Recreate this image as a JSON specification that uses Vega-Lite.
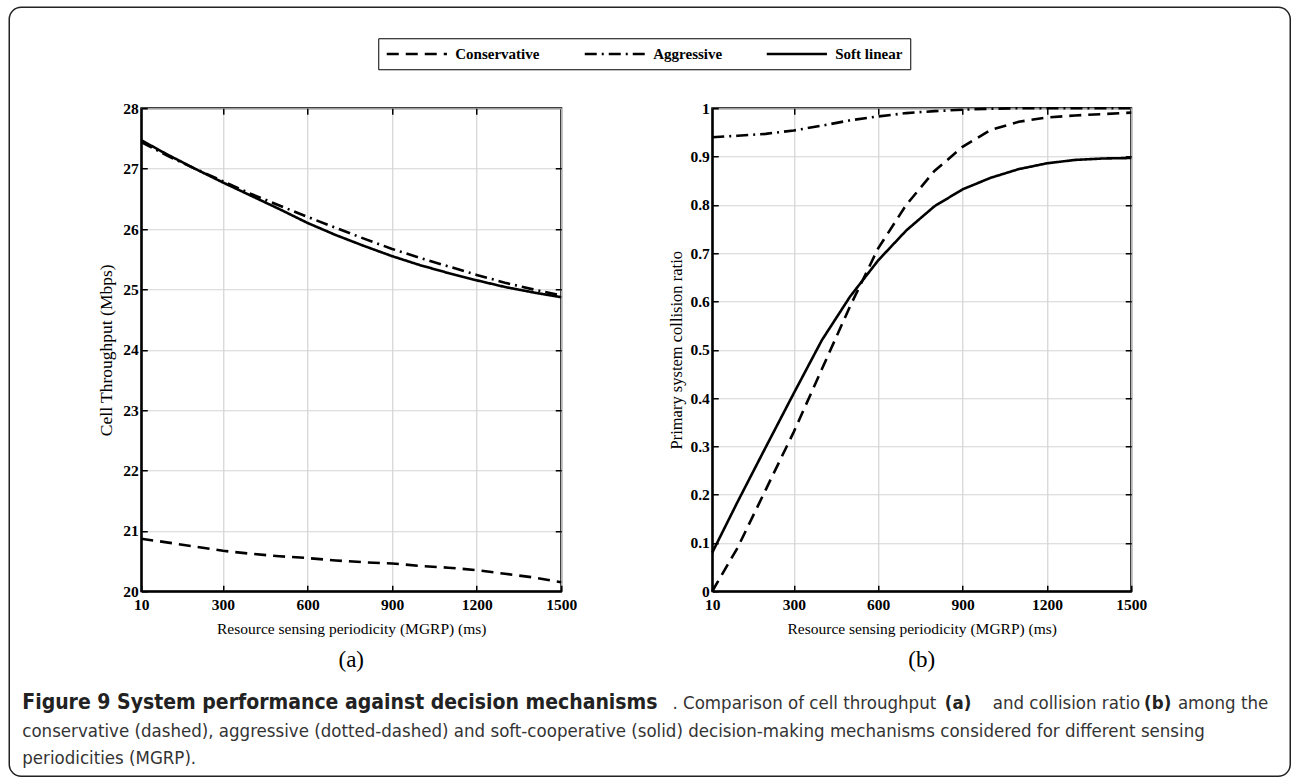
{
  "$schema": "https://vega.github.io/schema/vega-lite/v6.json",
  "padding": {"left": 8.25, "top": 6.25, "right": 0, "bottom": 0},
  "background": "white",
  "config": {
    "font": "Liberation Serif",
    "view": {"stroke": "black", "strokeWidth": 2},
    "axis": {
      "gridColor": "#d4d4d4", "gridWidth": 1.2,
      "domainColor": "black", "domainWidth": 2,
      "tickColor": "black", "tickWidth": 1.5, "tickSize": -6,
      "labelFont": "Liberation Serif", "labelFontSize": 15.5, "labelFontWeight": "bold", "labelColor": "black",
      "titleFont": "Liberation Serif", "titleFontSize": 15.5, "titleFontWeight": "normal", "titleColor": "black",
      "labelFlush": false, "labelOverlap": false
    },
    "legend": {
      "labelFont": "Liberation Serif", "labelFontSize": 15, "labelFontWeight": "bold", "labelColor": "black"
    }
  },
  "datasets": {
    "throughput": [
      {"mgrp": 10, "mechanism": "Conservative", "value": 20.87},
      {"mgrp": 100, "mechanism": "Conservative", "value": 20.81},
      {"mgrp": 200, "mechanism": "Conservative", "value": 20.74},
      {"mgrp": 300, "mechanism": "Conservative", "value": 20.67},
      {"mgrp": 400, "mechanism": "Conservative", "value": 20.62},
      {"mgrp": 500, "mechanism": "Conservative", "value": 20.58},
      {"mgrp": 600, "mechanism": "Conservative", "value": 20.55},
      {"mgrp": 700, "mechanism": "Conservative", "value": 20.51},
      {"mgrp": 800, "mechanism": "Conservative", "value": 20.48},
      {"mgrp": 900, "mechanism": "Conservative", "value": 20.46},
      {"mgrp": 1000, "mechanism": "Conservative", "value": 20.42},
      {"mgrp": 1100, "mechanism": "Conservative", "value": 20.39},
      {"mgrp": 1200, "mechanism": "Conservative", "value": 20.35},
      {"mgrp": 1300, "mechanism": "Conservative", "value": 20.29},
      {"mgrp": 1400, "mechanism": "Conservative", "value": 20.23},
      {"mgrp": 1500, "mechanism": "Conservative", "value": 20.15},
      {"mgrp": 10, "mechanism": "Aggressive", "value": 27.44},
      {"mgrp": 100, "mechanism": "Aggressive", "value": 27.22},
      {"mgrp": 200, "mechanism": "Aggressive", "value": 27.0},
      {"mgrp": 300, "mechanism": "Aggressive", "value": 26.79},
      {"mgrp": 400, "mechanism": "Aggressive", "value": 26.58},
      {"mgrp": 500, "mechanism": "Aggressive", "value": 26.39},
      {"mgrp": 600, "mechanism": "Aggressive", "value": 26.2},
      {"mgrp": 700, "mechanism": "Aggressive", "value": 26.02},
      {"mgrp": 800, "mechanism": "Aggressive", "value": 25.84},
      {"mgrp": 900, "mechanism": "Aggressive", "value": 25.67},
      {"mgrp": 1000, "mechanism": "Aggressive", "value": 25.52},
      {"mgrp": 1100, "mechanism": "Aggressive", "value": 25.38},
      {"mgrp": 1200, "mechanism": "Aggressive", "value": 25.24},
      {"mgrp": 1300, "mechanism": "Aggressive", "value": 25.11},
      {"mgrp": 1400, "mechanism": "Aggressive", "value": 25.0},
      {"mgrp": 1500, "mechanism": "Aggressive", "value": 24.9},
      {"mgrp": 10, "mechanism": "Soft linear", "value": 27.47},
      {"mgrp": 100, "mechanism": "Soft linear", "value": 27.24},
      {"mgrp": 200, "mechanism": "Soft linear", "value": 27.0},
      {"mgrp": 300, "mechanism": "Soft linear", "value": 26.77},
      {"mgrp": 400, "mechanism": "Soft linear", "value": 26.55},
      {"mgrp": 500, "mechanism": "Soft linear", "value": 26.33},
      {"mgrp": 600, "mechanism": "Soft linear", "value": 26.1},
      {"mgrp": 700, "mechanism": "Soft linear", "value": 25.9},
      {"mgrp": 800, "mechanism": "Soft linear", "value": 25.72},
      {"mgrp": 900, "mechanism": "Soft linear", "value": 25.55},
      {"mgrp": 1000, "mechanism": "Soft linear", "value": 25.4},
      {"mgrp": 1100, "mechanism": "Soft linear", "value": 25.27},
      {"mgrp": 1200, "mechanism": "Soft linear", "value": 25.15},
      {"mgrp": 1300, "mechanism": "Soft linear", "value": 25.04},
      {"mgrp": 1400, "mechanism": "Soft linear", "value": 24.95},
      {"mgrp": 1500, "mechanism": "Soft linear", "value": 24.87}
    ],
    "collision": [
      {"mgrp": 10, "mechanism": "Conservative", "value": 0.0},
      {"mgrp": 100, "mechanism": "Conservative", "value": 0.09},
      {"mgrp": 200, "mechanism": "Conservative", "value": 0.21},
      {"mgrp": 300, "mechanism": "Conservative", "value": 0.33},
      {"mgrp": 400, "mechanism": "Conservative", "value": 0.46},
      {"mgrp": 500, "mechanism": "Conservative", "value": 0.59},
      {"mgrp": 600, "mechanism": "Conservative", "value": 0.71},
      {"mgrp": 700, "mechanism": "Conservative", "value": 0.8},
      {"mgrp": 800, "mechanism": "Conservative", "value": 0.87},
      {"mgrp": 900, "mechanism": "Conservative", "value": 0.92},
      {"mgrp": 1000, "mechanism": "Conservative", "value": 0.955},
      {"mgrp": 1100, "mechanism": "Conservative", "value": 0.972},
      {"mgrp": 1200, "mechanism": "Conservative", "value": 0.981},
      {"mgrp": 1300, "mechanism": "Conservative", "value": 0.985},
      {"mgrp": 1400, "mechanism": "Conservative", "value": 0.988},
      {"mgrp": 1500, "mechanism": "Conservative", "value": 0.991},
      {"mgrp": 10, "mechanism": "Aggressive", "value": 0.94},
      {"mgrp": 100, "mechanism": "Aggressive", "value": 0.943},
      {"mgrp": 200, "mechanism": "Aggressive", "value": 0.947},
      {"mgrp": 300, "mechanism": "Aggressive", "value": 0.954},
      {"mgrp": 400, "mechanism": "Aggressive", "value": 0.964},
      {"mgrp": 500, "mechanism": "Aggressive", "value": 0.975},
      {"mgrp": 600, "mechanism": "Aggressive", "value": 0.983},
      {"mgrp": 700, "mechanism": "Aggressive", "value": 0.99},
      {"mgrp": 800, "mechanism": "Aggressive", "value": 0.994},
      {"mgrp": 900, "mechanism": "Aggressive", "value": 0.997},
      {"mgrp": 1000, "mechanism": "Aggressive", "value": 0.999},
      {"mgrp": 1100, "mechanism": "Aggressive", "value": 1.0},
      {"mgrp": 1200, "mechanism": "Aggressive", "value": 1.0},
      {"mgrp": 1300, "mechanism": "Aggressive", "value": 1.0},
      {"mgrp": 1400, "mechanism": "Aggressive", "value": 1.0},
      {"mgrp": 1500, "mechanism": "Aggressive", "value": 1.0},
      {"mgrp": 10, "mechanism": "Soft linear", "value": 0.08},
      {"mgrp": 100, "mechanism": "Soft linear", "value": 0.185},
      {"mgrp": 200, "mechanism": "Soft linear", "value": 0.298},
      {"mgrp": 300, "mechanism": "Soft linear", "value": 0.41},
      {"mgrp": 400, "mechanism": "Soft linear", "value": 0.52},
      {"mgrp": 500, "mechanism": "Soft linear", "value": 0.61},
      {"mgrp": 600, "mechanism": "Soft linear", "value": 0.685},
      {"mgrp": 700, "mechanism": "Soft linear", "value": 0.747},
      {"mgrp": 800, "mechanism": "Soft linear", "value": 0.797},
      {"mgrp": 900, "mechanism": "Soft linear", "value": 0.832},
      {"mgrp": 1000, "mechanism": "Soft linear", "value": 0.856},
      {"mgrp": 1100, "mechanism": "Soft linear", "value": 0.874},
      {"mgrp": 1200, "mechanism": "Soft linear", "value": 0.886},
      {"mgrp": 1300, "mechanism": "Soft linear", "value": 0.893},
      {"mgrp": 1400, "mechanism": "Soft linear", "value": 0.896},
      {"mgrp": 1500, "mechanism": "Soft linear", "value": 0.897}
    ]
  },
  "bounds": "flush",
  "spacing": 572,
  "vconcat": [
    {
      "bounds": "flush",
      "spacing": 151,
      "hconcat": [
        {
          "width": 420, "height": 483,
          "data": {"name": "throughput"},
          "title": {"text": "(a)", "orient": "bottom", "fontSize": 23, "font": "Liberation Serif", "fontWeight": "normal", "color": "black", "offset": 12},
          "resolve": {"axis": {"x": "independent", "y": "independent"}},
          "layer": [
            {
              "mark": {"type": "line", "color": "black", "strokeWidth": 2.6},
              "encoding": {
                "x": {"field": "mgrp", "type": "quantitative", "scale": {"domain": [10, 1500], "nice": false},
                  "axis": {"values": [10, 300, 600, 900, 1200, 1500], "format": "d", "title": "Resource sensing periodicity (MGRP) (ms)", "labelPadding": 12, "titlePadding": 9}},
                "y": {"field": "value", "type": "quantitative", "scale": {"domain": [20, 28], "nice": false, "zero": false},
                  "axis": {"values": [20, 21, 22, 23, 24, 25, 26, 27, 28], "title": "Cell Throughput (Mbps)", "titleFontSize": 17.5, "labelPadding": 9, "titlePadding": 7}},
                "strokeDash": {"field": "mechanism", "type": "nominal",
                  "scale": {"domain": ["Conservative", "Aggressive", "Soft linear"], "range": [[12, 7], [12, 5, 2, 5], [1, 0]]},
                  "legend": {"orient": "none", "legendX": 237, "legendY": -70, "direction": "horizontal", "title": null,
                    "symbolType": "M-1,0H7.6", "symbolSize": 196, "symbolStrokeWidth": 2.6, "symbolStrokeColor": "black",
                    "strokeColor": "black", "padding": 7, "columnPadding": 39, "labelOffset": 53}}
              }
            },
            {
              "mark": {"type": "point", "opacity": 0},
              "encoding": {
                "x": {"field": "mgrp", "type": "quantitative",
                  "axis": {"orient": "top", "values": [300, 600, 900, 1200], "labels": false, "grid": false, "domain": false, "title": null}},
                "y": {"field": "value", "type": "quantitative",
                  "axis": {"orient": "right", "values": [21, 22, 23, 24, 25, 26, 27], "labels": false, "grid": false, "domain": false, "title": null}}
              }
            }
          ]
        },
        {
          "width": 419, "height": 483,
          "data": {"name": "collision"},
          "title": {"text": "(b)", "orient": "bottom", "fontSize": 23, "font": "Liberation Serif", "fontWeight": "normal", "color": "black", "offset": 12},
          "resolve": {"axis": {"x": "independent", "y": "independent"}},
          "layer": [
            {
              "mark": {"type": "line", "color": "black", "strokeWidth": 2.6},
              "encoding": {
                "x": {"field": "mgrp", "type": "quantitative", "scale": {"domain": [10, 1500], "nice": false},
                  "axis": {"values": [10, 300, 600, 900, 1200, 1500], "format": "d", "title": "Resource sensing periodicity (MGRP) (ms)", "labelPadding": 12, "titlePadding": 9}},
                "y": {"field": "value", "type": "quantitative", "scale": {"domain": [0, 1], "nice": false},
                  "axis": {"values": [0, 0.1, 0.2, 0.3, 0.4, 0.5, 0.6, 0.7, 0.8, 0.9, 1], "format": ".1~f", "title": "Primary system collision ratio", "titleFontSize": 16.5, "labelPadding": 9, "titlePadding": 5}},
                "strokeDash": {"field": "mechanism", "type": "nominal"}
              }
            },
            {
              "mark": {"type": "point", "opacity": 0},
              "encoding": {
                "x": {"field": "mgrp", "type": "quantitative",
                  "axis": {"orient": "top", "values": [300, 600, 900, 1200], "labels": false, "grid": false, "domain": false, "title": null}},
                "y": {"field": "value", "type": "quantitative",
                  "axis": {"orient": "right", "values": [0.1, 0.2, 0.3, 0.4, 0.5, 0.6, 0.7, 0.8, 0.9], "labels": false, "grid": false, "domain": false, "title": null}}
              }
            }
          ]
        }
      ]
    },
    {
      "width": 1100, "height": 96,
      "view": {"stroke": null},
      "data": {"values": [{}]},
      "layer": [
        {"mark": {"type": "rect", "x": -132, "x2": 1149, "y": -673, "y2": 96, "cornerRadius": 12, "fill": "transparent", "stroke": "#222", "strokeWidth": 1.5}, "encoding": {}},
        {"mark": {"type": "rule", "x": -56, "y": -657, "y2": -30, "color": "#dadada", "strokeWidth": 1.2}, "encoding": {}},
        {"mark": {"type": "text", "text": "Figure 9 System performance against decision mechanisms", "x": -119, "y": 29, "align": "left", "baseline": "alphabetic", "font": "DejaVu Sans Condensed, Open Sans, sans-serif", "fontSize": 21, "fontWeight": "bold", "color": "#222"}, "encoding": {}},
        {"mark": {"type": "text", "text": ". Comparison of cell throughput", "x": 795, "y": 29, "align": "right", "baseline": "alphabetic", "font": "DejaVu Sans Condensed, Open Sans, sans-serif", "fontSize": 18.5, "color": "#333"}, "encoding": {}},
        {"mark": {"type": "text", "text": "(a)", "x": 830, "y": 29, "align": "right", "baseline": "alphabetic", "font": "DejaVu Sans Condensed, Open Sans, sans-serif", "fontSize": 18.5, "fontWeight": "bold", "color": "#222"}, "encoding": {}},
        {"mark": {"type": "text", "text": "and collision ratio", "x": 999, "y": 29, "align": "right", "baseline": "alphabetic", "font": "DejaVu Sans Condensed, Open Sans, sans-serif", "fontSize": 18.5, "color": "#333"}, "encoding": {}},
        {"mark": {"type": "text", "text": "(b)", "x": 1030, "y": 29, "align": "right", "baseline": "alphabetic", "font": "DejaVu Sans Condensed, Open Sans, sans-serif", "fontSize": 18.5, "fontWeight": "bold", "color": "#222"}, "encoding": {}},
        {"mark": {"type": "text", "text": "among the", "x": 1127, "y": 29, "align": "right", "baseline": "alphabetic", "font": "DejaVu Sans Condensed, Open Sans, sans-serif", "fontSize": 18.5, "color": "#333"}, "encoding": {}},
        {"mark": {"type": "text", "text": "conservative (dashed), aggressive (dotted-dashed) and soft-cooperative (solid) decision-making mechanisms considered for different sensing", "x": -119, "y": 57, "align": "left", "baseline": "alphabetic", "font": "DejaVu Sans Condensed, Open Sans, sans-serif", "fontSize": 18.5, "color": "#333"}, "encoding": {}},
        {"mark": {"type": "text", "text": "periodicities (MGRP).", "x": -119, "y": 84, "align": "left", "baseline": "alphabetic", "font": "DejaVu Sans Condensed, Open Sans, sans-serif", "fontSize": 18.5, "color": "#333"}, "encoding": {}}
      ]
    }
  ]
}
